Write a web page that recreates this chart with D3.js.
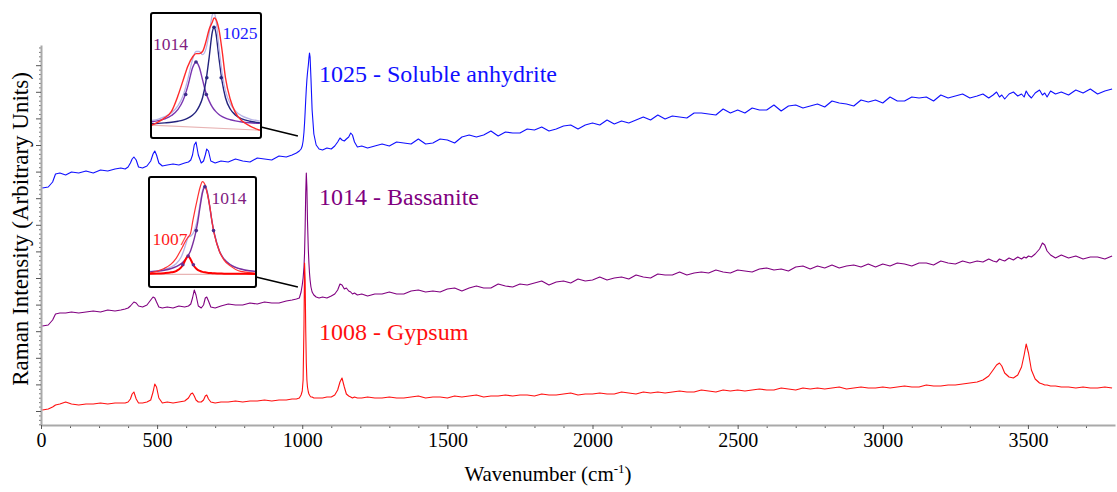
<!DOCTYPE html>
<html>
<head>
<meta charset="utf-8">
<script src="https://cdn.jsdelivr.net/npm/d3@7"></script>
<style>
  body { margin: 0; background: #fff; }
  svg { display: block; }
  text { font-family: "Liberation Serif", "Times New Roman", serif; }
</style>
</head>
<body>
<svg id="chart" width="1117" height="492"></svg>
<script>
// Raman shift grid (cm-1), shared by the three spectra
const wavenumbers = [
  105,125,140,150,165,185,205,230,255,280,305,330,355,375,390,
  400,408,414,420,428,436,450,465,478,486,492,498,506,518,535,555,575,595,608,616,622,628,634,642,652,660,666,671,677,685,700,
  720,745,770,795,820,845,870,895,920,945,965,980,
  990,996,1000,1003,1006,1008,1010,1012,1014,1016,1018,1021,1023,1025,1027,1030,1034,1040,1048,1058,
  1070,1085,1100,1112,1122,1130,1137,1145,1152,1160,1167,1173,1180,1190,1205,1225,1250,
  1275,1300,1325,1350,1375,1400,1425,1450,1475,1500,
  1525,1550,1575,1600,1625,1650,1675,1700,1725,1750,
  1775,1800,1825,1850,1875,1900,1925,1950,1975,2000,
  2025,2050,2075,2100,2125,2150,2175,2200,2225,2250,
  2275,2300,2325,2350,2375,2400,2425,2450,2475,2500,
  2525,2550,2575,2600,2625,2650,2675,2700,2725,2750,
  2775,2800,2825,2850,2875,2900,2925,2950,2975,3000,
  3025,3050,3075,3100,3125,3150,3175,3200,3225,3250,
  3275,3300,3325,
  3345,3365,3380,3392,3402,3410,3420,3435,3450,3465,3478,3487,3494,3502,3512,3525,3540,3550,3558,3566,3578,3595,3615,
  3640,3665,3690,3715,3740,3765,3790
];

// intensities (arbitrary units, spectra stacked with offsets)
const anhydrite = [
  237,238,243,251,252,250,253,252,254,252,255,254,256,257,256,
  258,262,266,268,265,258,257,259,264,271,274,270,262,259,260,261,260,262,263,265,270,280,283,270,262,264,270,276,274,264,262,
  264,263,266,264,263,267,266,265,269,268,270,272,
  274,276,279,284,293,302,313,325,336,345,352,360,367,372,368,347,315,291,280,276,
  275,277,276,279,283,287,285,284,286,288,292,290,283,278,279,277,279,
  281,279,283,282,281,286,281,282,286,285,
  282,288,290,288,290,294,289,293,292,292,
  296,295,298,294,296,299,300,296,300,302,
  300,305,301,304,302,305,308,305,310,306,
  309,308,307,312,312,311,310,316,312,315,
  312,317,315,315,320,314,319,320,317,319,
  321,318,324,322,321,319,325,323,325,322,
  328,324,324,328,327,328,324,330,327,329,
  331,327,329,
  331,327,330,333,328,330,326,331,333,329,331,328,334,330,327,332,335,330,332,328,334,331,333,
  330,335,332,336,331,334,336
];
const bassanite = [
  99,100,105,111,112,112,113,112,113,114,113,115,114,115,116,
  117,119,121,123,122,119,118,120,125,128,127,123,118,117,118,117,119,118,119,121,127,135,130,119,117,120,127,128,124,118,117,
  119,121,120,120,122,121,123,122,122,124,125,126,
  127,133,140,147,158,172,198,232,252,238,205,175,162,152,145,138,133,130,128,127,
  128,127,129,131,135,141,140,136,137,134,133,131,132,130,131,129,131,
  131,133,131,131,134,135,133,134,133,136,
  137,134,137,139,137,137,141,139,138,141,
  140,142,144,140,143,144,142,146,144,145,
  148,145,147,148,146,150,148,147,151,150,
  150,153,150,152,153,152,155,153,152,155,
  154,153,156,157,155,156,154,158,159,156,
  159,157,160,157,159,160,158,161,158,161,
  159,162,161,159,162,162,160,164,162,161,
  164,162,164,
  163,166,164,163,166,165,164,167,165,168,166,168,167,169,168,171,176,182,180,174,170,167,170,
  167,169,166,168,168,166,169
];
const gypsum = [
  15,16,18,20,21,23,21,20,21,21,22,21,22,22,22,
  23,26,31,33,26,22,22,23,25,33,41,38,27,22,23,22,23,24,27,31,32,29,25,23,23,25,29,30,26,23,22,
  23,23,24,23,24,24,25,24,25,25,26,26,
  27,30,34,45,100,162,145,95,62,45,38,33,31,30,29,28,28,27,27,27,
  27,28,28,30,35,43,47,38,31,29,28,27,28,27,27,28,27,
  27,28,27,27,28,29,27,28,28,27,
  29,28,29,30,28,29,29,30,29,30,
  30,29,31,30,30,31,32,30,31,31,
  32,31,31,33,32,31,33,32,33,32,
  33,34,33,33,35,34,33,35,34,35,
  34,35,36,35,35,37,36,35,37,36,
  37,36,37,38,36,37,38,37,37,38,
  37,38,39,38,38,40,39,39,40,40,
  41,42,43,
  45,49,55,60,62,59,52,48,47,50,58,70,81,72,55,46,42,41,40,40,39,39,38,
  38,37,38,37,37,38,37
];

const spectra = [
  { name: "1025 - Soluble anhydrite", values: anhydrite, color: "#1010ff" },
  { name: "1014 - Bassanite", values: bassanite, color: "#800080" },
  { name: "1008 - Gypsum", values: gypsum, color: "#ff1010" }
];

const xMajorTicks = [100, 500, 1000, 1500, 2000, 2500, 3000, 3500];
const xTickLabels = ["0", "500", "1000", "1500", "2000", "2500", "3000", "3500"];

// inset 1: 1014 / 1025 band fit of the soluble anhydrite peak
const inset1Wn = [987,991,995,999,1003,1006,1009,1012,1014,1016,1018,1020,1022,1024,1025,1026,1028,1030,1032,1035,1038,1042,1047,1053];
const inset1Measured = [0.00,0.03,0.07,0.13,0.28,0.42,0.56,0.65,0.68,0.68,0.70,0.79,0.91,0.98,1.02,1.01,0.91,0.70,0.45,0.24,0.12,0.04,-0.01,-0.05];
const inset1Fit = [0.043,0.057,0.079,0.116,0.184,0.277,0.435,0.63,0.70,0.70,0.67,0.72,0.87,1.05,1.07,1.02,0.74,0.49,0.325,0.20,0.135,0.087,0.057,0.037];
const inset1Band1014 = [0.031,0.042,0.059,0.09,0.148,0.23,0.37,0.55,0.60,0.55,0.43,0.31,0.23,0.17,0.148,0.13,0.10,0.08,0.065,0.05,0.039,0.029,0.021,0.015];
const inset1Band1025 = [0.012,0.015,0.02,0.026,0.036,0.047,0.065,0.096,0.128,0.18,0.26,0.41,0.64,0.89,0.93,0.89,0.64,0.41,0.26,0.15,0.096,0.058,0.036,0.022];
const inset1Points1014 = [[1007.7, 0.29], [1014, 0.60], [1020.3, 0.29]];
const inset1Points1025 = [[1020.6, 0.45], [1025, 0.93], [1029.4, 0.45]];
const inset1Baseline = [[986, 0], [1054, -0.05]];

// inset 2: 1007 / 1014 band fit of the bassanite peak
const inset2Wn = [991,994,997,1000,1002,1004,1005,1006,1007,1008,1009,1010,1011,1012,1013,1014,1015,1016,1017,1018,1020,1022,1025,1028,1031,1035];
const inset2Measured = [0.01,0.03,0.06,0.11,0.17,0.26,0.31,0.36,0.40,0.44,0.58,0.71,0.83,0.94,1.00,0.97,0.87,0.74,0.56,0.42,0.25,0.15,0.08,0.035,0.02,0.01];
const inset2Fit = [0.027,0.035,0.05,0.078,0.112,0.178,0.24,0.32,0.395,0.41,0.437,0.498,0.605,0.762,0.903,0.964,0.894,0.741,0.569,0.437,0.256,0.164,0.097,0.062,0.043,0.029];
const inset2Band1014 = [0.023,0.030,0.041,0.06,0.08,0.11,0.133,0.16,0.20,0.25,0.33,0.43,0.56,0.73,0.88,0.946,0.88,0.73,0.56,0.43,0.25,0.16,0.094,0.06,0.041,0.028];
const inset2Band1007 = [0.004,0.005,0.009,0.018,0.032,0.068,0.107,0.16,0.195,0.16,0.107,0.068,0.045,0.032,0.023,0.018,0.014,0.011,0.009,0.007,0.006,0.004,0.003,0.002,0.002,0.001];
const inset2Points1014 = [[1010.4, 0.47], [1014, 0.946], [1017.6, 0.47]];
const inset2Points1007 = [[1004.8, 0.10], [1007, 0.195], [1009.2, 0.10]];
const inset2Baseline = [[990, -0.005], [1036, -0.005]];

const svg = d3.select("#chart");

const x = d3.scaleLinear().domain([100, 3800]).range([41, 1115]);
const y = d3.scaleLinear().domain([0, 380]).range([425, 45]);

const axisGrey = "#a9a9a9";

// y axis, no labels (arbitrary units)
const step = 26.6;
const yMajor = d3.range(0, 14).map(k => 14 + k * step);
const yMinor = d3.range(-3, 83).filter(k => k % 6 !== 0).map(k => 14 + k * step / 6).filter(v => v <= 378);

svg.append("g")
  .attr("transform", `translate(${x(100)},0)`)
  .call(d3.axisLeft(y).tickValues(yMinor).tickFormat("").tickSize(2).tickSizeOuter(0))
  .call(g => g.select(".domain").remove())
  .call(g => g.selectAll(".tick line").attr("stroke", "#777"));

svg.append("g")
  .attr("transform", `translate(${x(100)},0)`)
  .call(d3.axisLeft(y).tickValues(yMajor).tickFormat("").tickSize(5).tickSizeOuter(0))
  .call(g => g.select(".domain").attr("stroke", axisGrey).attr("stroke-width", 2))
  .call(g => g.selectAll(".tick line").attr("stroke", "#555"));

// x axis
svg.append("g")
  .attr("transform", `translate(0,${y(0)})`)
  .call(d3.axisBottom(x).tickValues(d3.range(200, 3800, 100).filter(v => v % 500 !== 0)).tickFormat("").tickSize(3).tickSizeOuter(0))
  .call(g => g.select(".domain").remove())
  .call(g => g.selectAll(".tick line").attr("stroke", "#555"));

svg.append("g")
  .attr("transform", `translate(0,${y(0)})`)
  .call(d3.axisBottom(x).tickValues(xMajorTicks).tickFormat((d, i) => xTickLabels[i]).tickSize(4).tickSizeOuter(0))
  .call(g => g.select(".domain").attr("stroke", axisGrey).attr("stroke-width", 2))
  .call(g => g.selectAll(".tick line").attr("stroke", "#555"))
  .call(g => g.selectAll(".tick text").attr("font-size", 20).attr("fill", "#000")
    .attr("font-family", "Liberation Serif, Times New Roman, serif").attr("y", 8));

// axis titles
const xTitle = svg.append("text")
  .attr("x", 548).attr("y", 481)
  .attr("text-anchor", "middle")
  .attr("font-size", 21)
  .attr("fill", "#000");
xTitle.append("tspan").text("Wavenumber (cm");
xTitle.append("tspan").attr("font-size", 13).attr("dy", -8).text("-1");
xTitle.append("tspan").attr("dy", 8).text(")");

svg.append("text")
  .attr("transform", "translate(28,229) rotate(-90)")
  .attr("text-anchor", "middle")
  .attr("font-size", 23)
  .attr("fill", "#000")
  .text("Raman Intensity (Arbitrary Units)");

// spectra
const spectrumLine = d3.line()
  .x((d, i) => x(wavenumbers[i]))
  .y(d => y(d));

svg.append("g")
  .selectAll("path")
  .data(spectra)
  .join("path")
  .attr("d", d => spectrumLine(d.values))
  .attr("fill", "none")
  .attr("stroke", d => d.color)
  .attr("stroke-width", 1.1)
  .attr("stroke-linejoin", "round");

// spectrum names
const nameBaselines = [82, 205, 340];
svg.append("g")
  .selectAll("text")
  .data(spectra)
  .join("text")
  .attr("x", 319)
  .attr("y", (d, i) => nameBaselines[i])
  .attr("font-size", 24)
  .attr("fill", d => d.color)
  .text(d => d.name);

// insets with band fits
function drawInset(opt) {
  const { id, box, xDomain, yRange, wn, curves, points, baseline, labels, target, from } = opt;
  const ix = d3.scaleLinear().domain(xDomain).range([box.x, box.x + box.w]);
  const iy = d3.scaleLinear().domain([0, 1]).range(yRange);

  // connector to the main peak
  svg.append("line")
    .attr("x1", from[0]).attr("y1", from[1])
    .attr("x2", x(target[0])).attr("y2", y(target[1]))
    .attr("stroke", "#000").attr("stroke-width", 1.6);

  const g = svg.append("g");
  g.append("clipPath").attr("id", id)
    .append("rect").attr("x", box.x).attr("y", box.y).attr("width", box.w).attr("height", box.h);
  g.append("rect")
    .attr("x", box.x).attr("y", box.y).attr("width", box.w).attr("height", box.h)
    .attr("fill", "#fff");

  const plot = g.append("g").attr("clip-path", `url(#${id})`);
  plot.append("path")
    .attr("d", d3.line().x(d => ix(d[0])).y(d => iy(d[1]))(baseline))
    .attr("fill", "none").attr("stroke", "#e8b4b4").attr("stroke-width", 1.2);

  const curveLine = d3.line().x((d, i) => ix(wn[i])).y(d => iy(d)).curve(d3.curveMonotoneX);
  curves.forEach(c => {
    plot.append("path")
      .attr("d", curveLine(c.values))
      .attr("fill", "none")
      .attr("stroke", c.color)
      .attr("stroke-width", c.width);
  });

  points.forEach(p => {
    plot.append("g").selectAll("circle")
      .data(p.values)
      .join("circle")
      .attr("cx", d => ix(d[0]))
      .attr("cy", d => iy(d[1]))
      .attr("r", 1.8)
      .attr("fill", p.color);
  });

  g.append("rect")
    .attr("x", box.x).attr("y", box.y).attr("width", box.w).attr("height", box.h)
    .attr("rx", 2)
    .attr("fill", "none").attr("stroke", "#000").attr("stroke-width", 2);

  g.selectAll("text.lbl")
    .data(labels)
    .join("text")
    .attr("class", "lbl")
    .attr("x", d => box.x + d.dx)
    .attr("y", d => box.y + d.dy)
    .attr("font-size", 17.5)
    .attr("fill", d => d.color)
    .text(d => d.text);
}

drawInset({
  id: "clip-inset1",
  box: { x: 151, y: 13, w: 110, h: 125 },
  xDomain: [986.5, 1053.7],
  yRange: [125, 20],
  wn: inset1Wn,
  curves: [
    { values: inset1Band1014, color: "#7a35b0", width: 1.4 },
    { values: inset1Band1025, color: "#23237e", width: 1.4 },
    { values: inset1Fit, color: "#b7b3e6", width: 1.3 },
    { values: inset1Measured, color: "#ff2a2a", width: 1.4 }
  ],
  points: [
    { values: inset1Points1014, color: "#3b2a8a" },
    { values: inset1Points1025, color: "#23237e" }
  ],
  baseline: inset1Baseline,
  labels: [
    { text: "1014", dx: 2, dy: 36.5, color: "#80207f" },
    { text: "1025", dx: 71.5, dy: 25.5, color: "#1a1aff" }
  ],
  from: [261, 127],
  target: [985, 289]
});

drawInset({
  id: "clip-inset2",
  box: { x: 149, y: 177, w: 107, h: 110 },
  xDomain: [990.7, 1035.3],
  yRange: [274, 181.7],
  wn: inset2Wn,
  curves: [
    { values: inset2Fit, color: "#b7b3e6", width: 1.3 },
    { values: inset2Band1014, color: "#7a2f9e", width: 1.4 },
    { values: inset2Measured, color: "#ff3030", width: 1.2 },
    { values: inset2Band1007, color: "#ff0000", width: 2 }
  ],
  points: [
    { values: inset2Points1014, color: "#4a2a8a" },
    { values: inset2Points1007, color: "#6a2a8a" }
  ],
  baseline: inset2Baseline,
  labels: [
    { text: "1014", dx: 62.5, dy: 27 },
    { text: "1007", dx: 3.5, dy: 68, color: "#ff2020" }
  ].map(d => ({ ...d, color: d.color || "#80207f" })),
  from: [256, 277],
  target: [985, 138]
});
</script>
</body>
</html>
